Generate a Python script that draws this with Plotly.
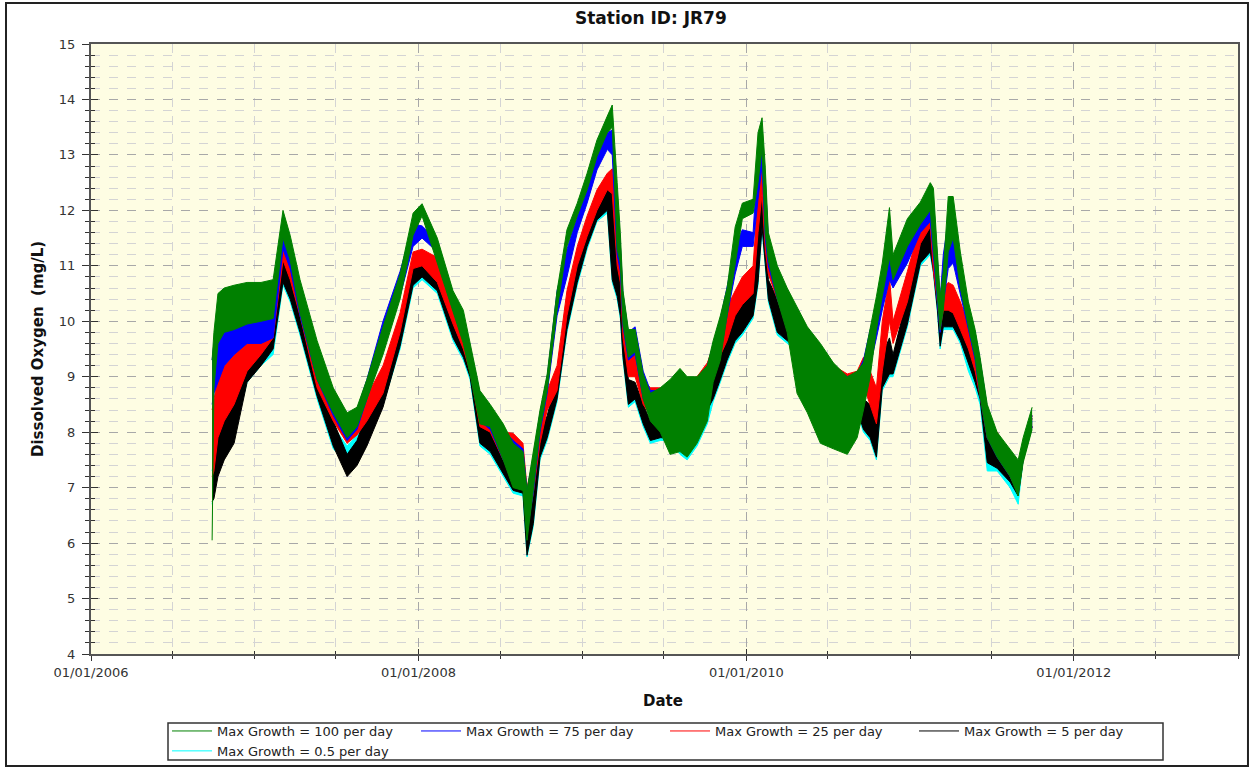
import plotly.graph_objects as go

# sample dates and the low/high envelope of each (very noisy) series
dates = [
    "2006-09-28", "2006-10-02", "2006-10-11", "2006-10-25", "2006-11-16", "2006-12-15",
    "2007-01-15", "2007-02-11", "2007-03-05", "2007-03-21", "2007-04-12", "2007-05-20",
    "2007-06-25", "2007-07-26", "2007-08-17", "2007-09-08", "2007-10-14", "2007-11-21",
    "2007-12-20", "2008-01-09", "2008-02-12", "2008-03-18", "2008-04-10", "2008-04-25",
    "2008-05-17", "2008-06-09", "2008-07-08", "2008-07-30", "2008-08-21", "2008-08-30",
    "2008-09-13", "2008-09-28", "2008-10-14", "2008-11-05", "2008-11-27", "2008-12-20",
    "2009-01-11", "2009-02-02", "2009-02-25", "2009-03-08", "2009-03-19", "2009-03-26",
    "2009-04-01", "2009-04-13", "2009-04-28", "2009-05-16", "2009-06-01", "2009-06-23",
    "2009-07-15", "2009-08-06", "2009-08-22", "2009-09-13", "2009-10-06", "2009-10-19",
    "2009-11-04", "2009-11-19", "2009-12-07", "2009-12-23", "2010-01-16", "2010-01-27",
    "2010-02-05", "2010-02-12", "2010-02-19", "2010-03-11", "2010-04-02", "2010-04-24",
    "2010-05-17", "2010-06-15", "2010-07-14", "2010-08-14", "2010-09-05", "2010-09-19",
    "2010-10-04", "2010-10-18", "2010-10-31", "2010-11-16", "2010-11-24", "2010-12-26",
    "2011-01-24", "2011-02-15", "2011-02-22", "2011-03-03", "2011-03-09", "2011-03-16",
    "2011-03-27", "2011-04-07", "2011-04-23", "2011-05-11", "2011-05-26", "2011-06-06",
    "2011-06-22", "2011-07-14", "2011-08-12", "2011-08-30", "2011-09-10", "2011-09-30",
]

g100_lo = [6.05, 8.8, 9.6, 9.8, 9.85, 9.95, 10.0, 10.05, 11.5, 11.1, 10.15, 8.95,
           8.35, 7.9, 8.1, 8.6, 9.4, 10.4, 11.55, 11.9, 11.05, 10.15, 9.6, 9.05,
           8.15, 8.1, 7.5, 7.0, 6.95, 6.05, 6.95, 8.05, 8.75, 10.2, 11.35, 11.9,
           12.37, 12.97, 13.4, 13.5, 11.3, 11.05, 9.95, 9.35, 9.45, 8.6, 8.2, 8.0,
           7.6, 7.65, 7.55, 7.8, 8.2, 8.9, 9.3, 10.1, 11.0, 11.85, 11.95, 12.5,
           13.1, 11.6, 11.1, 10.4, 9.8, 8.7, 8.35, 7.8, 7.7, 7.6, 7.9, 8.4,
           9.0, 9.85, 10.45, 11.15, 10.75, 11.35, 11.75, 12.0, 11.3, 10.45, 9.85, 10.2,
           11.25, 11.5, 10.6, 9.9, 9.35, 8.65, 7.9, 7.55, 7.2, 6.85, 7.45, 8.05]
g100_hi = [9.3, 9.8, 10.5, 10.6, 10.65, 10.7, 10.7, 10.75, 12.0, 11.55, 10.75, 9.65,
           8.8, 8.35, 8.45, 8.95, 9.9, 10.85, 11.95, 12.12, 11.5, 10.55, 10.2, 9.6,
           8.75, 8.5, 8.15, 7.8, 7.65, 6.95, 7.65, 8.4, 9.05, 10.55, 11.65, 12.13,
           12.67, 13.27, 13.7, 13.9, 12.5, 11.6, 10.55, 9.85, 9.85, 9.05, 8.7, 8.8,
           8.95, 9.15, 9.0, 9.0, 9.2, 9.65, 10.1, 10.6, 11.7, 12.13, 12.2, 13.4,
           13.67, 12.8, 11.6, 11.0, 10.6, 10.25, 9.9, 9.6, 9.25, 9.0, 9.1, 9.25,
           9.85, 10.45, 11.05, 12.05, 11.2, 11.85, 12.15, 12.5, 12.4, 11.2, 10.45, 10.9,
           12.25, 12.25, 11.25, 10.35, 9.85, 9.35, 8.5, 8.0, 7.7, 7.5, 7.9, 8.45]

b75_lo = [8.5, 8.7, 8.9, 9.2, 9.4, 9.6, 9.6, 9.7, 11.3, 10.95, 10.1, 8.95,
          8.3, 7.85, 8.05, 8.6, 9.5, 10.45, 11.35, 11.5, 11.25, 10.2, 9.7, 9.1,
          8.2, 8.05, 7.5, 7.2, 7.1, 6.2, 6.9, 8.0, 8.7, 10.1, 10.8, 11.6,
          12.13, 12.73, 13.1, 13.0, 11.2, 10.9, 9.9, 9.3, 9.4, 8.6, 8.3, 8.3,
          8.3, 8.4, 8.45, 8.5, 8.7, 9.0, 9.4, 10.1, 10.85, 11.35, 11.35, 12.2,
          12.8, 11.5, 11.0, 10.4, 9.9, 9.7, 9.4, 9.2, 8.95, 8.8, 8.75, 8.85,
          9.2, 9.7, 10.2, 10.75, 10.6, 11.05, 11.6, 11.8, 11.2, 10.4, 9.8, 10.3,
          10.95, 11.05, 10.5, 9.85, 9.3, 8.65, 7.9, 7.55, 7.2, 6.9, 7.5, 8.1]
b75_hi = [9.3, 9.6, 9.7, 9.9, 9.9, 10.0, 10.05, 10.1, 11.8, 11.4, 10.6, 9.5,
          8.75, 8.3, 8.4, 8.95, 10.0, 10.9, 11.75, 11.72, 11.45, 10.5, 10.1, 9.55,
          8.7, 8.45, 8.05, 7.85, 7.7, 6.95, 7.55, 8.35, 9.0, 10.55, 11.3, 11.9,
          12.37, 13.09, 13.4, 13.45, 12.2, 11.4, 10.5, 9.8, 9.9, 9.1, 8.75, 8.75,
          8.8, 8.9, 8.95, 8.95, 9.2, 9.6, 10.05, 10.62, 11.35, 11.65, 11.6, 13.0,
          13.33, 12.6, 11.5, 10.95, 10.5, 10.05, 9.75, 9.5, 9.15, 9.0, 9.05, 9.3,
          9.85, 10.15, 10.7, 11.55, 11.0, 11.45, 12.0, 12.35, 12.2, 11.1, 10.4, 11.2,
          11.8, 11.75, 11.05, 10.2, 9.8, 9.3, 8.45, 7.95, 7.65, 7.4, 7.8, 8.3]

r25_lo = [7.2, 7.3, 7.9, 8.2, 8.5, 9.1, 9.4, 9.7, 11.1, 10.75, 10.1, 8.8,
          8.2, 7.8, 7.95, 8.2, 8.7, 9.8, 10.95, 11.0, 10.7, 9.95, 9.5, 9.1,
          8.1, 8.0, 7.5, 7.3, 7.1, 6.3, 6.9, 7.8, 8.4, 8.75, 10.1, 11.0,
          11.53, 12.0, 12.37, 12.3, 11.0, 10.7, 9.7, 9.0, 9.0, 8.5, 8.3, 8.3,
          8.3, 8.4, 8.5, 8.6, 8.75, 9.1, 9.4, 9.65, 10.1, 10.3, 10.5, 11.6,
          12.3, 11.3, 10.85, 10.4, 9.9, 9.8, 9.45, 9.25, 9.0, 8.8, 8.8, 8.85,
          8.5, 8.15, 9.1, 10.0, 9.6, 10.35, 11.4, 11.7, 10.9, 10.35, 9.85, 10.2,
          10.2, 10.15, 9.85, 9.5, 9.1, 8.65, 7.9, 7.6, 7.2, 6.9, 7.5, 8.1]
r25_hi = [8.4, 8.6, 9.0, 9.2, 9.4, 9.7, 9.8, 10.15, 11.65, 11.3, 10.55, 9.4,
          8.7, 8.1, 8.35, 8.65, 9.2, 10.15, 11.25, 11.3, 11.15, 10.3, 9.95, 9.5,
          8.6, 8.4, 8.0, 7.98, 7.8, 7.0, 7.5, 8.15, 8.75, 9.2, 10.55, 11.35,
          11.9, 12.37, 12.67, 12.75, 12.0, 11.3, 10.3, 9.5, 9.4, 8.95, 8.8, 8.8,
          8.8, 8.9, 8.95, 9.0, 9.25, 9.55, 9.9, 10.25, 10.55, 10.8, 11.0, 12.3,
          12.85, 12.3, 11.35, 10.9, 10.4, 10.1, 9.8, 9.55, 9.2, 9.05, 9.1, 9.35,
          9.1, 8.8, 10.0, 10.8, 10.0, 10.9, 11.75, 12.15, 12.0, 10.9, 10.45, 10.6,
          10.7, 10.65, 10.35, 9.95, 9.5, 9.1, 8.2, 8.0, 7.6, 7.3, 7.8, 8.3]

k5_lo = [6.75, 6.8, 7.2, 7.5, 7.8, 8.9, 9.2, 9.5, 10.7, 10.4, 9.8, 8.65,
         7.75, 7.2, 7.4, 7.75, 8.45, 9.55, 10.65, 10.8, 10.55, 9.7, 9.35, 9.0,
         7.8, 7.65, 7.25, 6.95, 6.9, 5.78, 6.35, 7.55, 7.9, 8.6, 9.85, 10.7,
         11.35, 11.83, 12.0, 10.75, 10.45, 10.1, 9.35, 8.5, 8.6, 8.15, 7.85, 7.9,
         7.9, 8.0, 8.1, 8.2, 8.4, 8.6, 8.95, 9.3, 9.65, 9.8, 10.1, 10.7,
         11.7, 11.0, 10.4, 9.8, 9.65, 9.5, 9.4, 9.1, 8.9, 8.65, 8.4, 8.05,
         7.9, 7.55, 8.8, 9.05, 9.05, 9.95, 11.05, 11.25, 10.9, 10.2, 9.55, 9.9,
         9.9, 9.9, 9.65, 9.25, 8.9, 8.6, 7.45, 7.35, 7.1, 6.85, 7.5, 8.1]
k5_hi = [7.4, 7.4, 8.0, 8.4, 8.8, 9.4, 9.7, 9.9, 11.2, 10.85, 10.25, 9.05,
         8.2, 7.6, 7.85, 8.35, 8.95, 10.0, 11.05, 11.15, 10.9, 10.2, 9.7, 9.35,
         8.3, 8.05, 7.65, 7.45, 7.3, 6.65, 7.25, 7.95, 8.3, 9.0, 10.3, 11.05,
         11.65, 12.13, 12.37, 12.37, 11.45, 10.7, 9.95, 8.95, 8.9, 8.5, 8.2, 8.3,
         8.3, 8.4, 8.5, 8.6, 8.9, 9.2, 9.4, 9.9, 10.2, 10.4, 10.6, 12.2,
         12.25, 11.7, 10.75, 10.4, 10.15, 9.9, 9.65, 9.5, 9.15, 8.9, 8.85, 8.6,
         8.5, 8.4, 9.4, 9.7, 9.4, 10.45, 11.6, 11.9, 11.8, 10.85, 10.1, 10.45,
         10.45, 10.4, 10.15, 9.7, 9.35, 9.1, 7.9, 7.6, 7.45, 7.2, 7.75, 8.25]

c05_lo = [6.7, 6.9, 7.4, 7.7, 8.0, 8.9, 9.2, 9.4, 10.65, 10.35, 9.75, 8.6,
          7.7, 7.45, 7.6, 7.9, 8.5, 9.5, 10.6, 10.75, 10.5, 9.65, 9.3, 8.95,
          7.75, 7.6, 7.2, 6.9, 6.85, 5.75, 6.3, 7.5, 7.85, 8.55, 9.8, 10.65,
          11.3, 11.8, 11.95, 10.7, 10.4, 10.05, 9.3, 8.45, 8.55, 8.1, 7.8, 7.85,
          7.85, 7.6, 7.5, 7.75, 8.15, 8.55, 8.9, 9.25, 9.6, 9.75, 10.05, 10.65,
          11.65, 10.95, 10.35, 9.75, 9.6, 9.45, 9.3, 9.05, 8.85, 8.6, 8.35, 8.0,
          7.85, 7.5, 8.75, 9.0, 9.0, 9.9, 11.0, 11.2, 10.85, 10.15, 9.5, 9.85,
          9.85, 9.85, 9.6, 9.1, 8.8, 8.5, 7.3, 7.3, 7.0, 6.7, 7.5, 8.1]
c05_hi = [7.3, 7.5, 8.0, 8.3, 8.7, 9.3, 9.6, 9.8, 11.1, 10.75, 10.15, 8.95,
          8.1, 7.75, 7.95, 8.3, 8.9, 9.95, 11.0, 11.1, 10.85, 10.1, 9.65, 9.3,
          8.2, 8.0, 7.6, 7.4, 7.25, 6.6, 7.2, 7.9, 8.25, 8.95, 10.25, 11.0,
          11.6, 12.1, 12.3, 12.2, 11.4, 10.6, 9.9, 8.9, 8.85, 8.45, 8.15, 8.2,
          8.2, 8.3, 8.4, 8.5, 8.8, 9.1, 9.35, 9.85, 10.15, 10.35, 10.55, 12.1,
          12.2, 11.65, 10.7, 10.35, 10.1, 9.85, 9.6, 9.45, 9.1, 8.85, 8.8, 8.55,
          8.45, 8.3, 9.35, 9.65, 9.35, 10.4, 11.55, 11.85, 11.75, 10.8, 10.05, 10.4,
          10.4, 10.35, 10.1, 9.5, 9.2, 9.0, 7.8, 7.5, 7.3, 7.0, 7.7, 8.2]

series = [
    # name, color, low, high, legend position
    ("Max Growth = 0.5 per day", "#00ffff", c05_lo, c05_hi, 5),
    ("Max Growth = 5 per day", "#000000", k5_lo, k5_hi, 4),
    ("Max Growth = 25 per day", "#ff0000", r25_lo, r25_hi, 3),
    ("Max Growth = 75 per day", "#0000ff", b75_lo, b75_hi, 2),
    ("Max Growth = 100 per day", "#008000", g100_lo, g100_hi, 1),
]

fig = go.Figure()
for name, color, lo, hi, rank in series:
    fig.add_trace(go.Scatter(
        x=dates, y=lo, name=name, mode="lines",
        line=dict(color=color, width=1), legendrank=rank,
    ))
    fig.add_trace(go.Scatter(
        x=dates, y=hi, name=name, mode="lines", showlegend=False,
        line=dict(color=color, width=1), fill="tonexty", fillcolor=color,
    ))

# invisible overlay axes give the tick marks that cross the axis lines
fig.add_trace(go.Scatter(x=[None], y=[None], xaxis="x2", yaxis="y2",
                         showlegend=False, hoverinfo="skip"))

grid_major = "#a8a8a8"
grid_minor = "#d4d4d4"
tick_font = dict(family="DejaVu Sans", size=13, color="#333333")

fig.update_layout(
    width=1253, height=769,
    margin=dict(l=91, r=15, t=44, b=115),
    paper_bgcolor="white",
    plot_bgcolor="#fefde3",
    showlegend=True,
    xaxis=dict(
        type="date", range=["2006-01-01", "2013-01-01"],
        tick0="2006-01-01", dtick="M24", tickformat="%m/%d/%Y",
        ticks="outside", ticklen=5, tickcolor="#333", tickfont=tick_font,
        showline=True, linecolor="#555", linewidth=2, mirror=True,
        showgrid=True, gridcolor=grid_major, griddash="dash", gridwidth=1,
        zeroline=False,
        minor=dict(dtick="M6", tick0="2006-01-01", ticks="outside", ticklen=3,
                   tickcolor="#333", showgrid=True, gridcolor=grid_minor,
                   griddash="dash"),
    ),
    yaxis=dict(
        range=[4, 15], dtick=1, tick0=0,
        ticks="outside", ticklen=7, tickcolor="#333", tickfont=tick_font,
        ticklabelstandoff=4,
        showline=True, linecolor="#555", linewidth=2, mirror=True,
        showgrid=True, gridcolor=grid_major, griddash="dash", gridwidth=1,
        zeroline=False,
        minor=dict(dtick=0.2, tick0=0, ticks="outside", ticklen=4,
                   tickcolor="#333", showgrid=True, gridcolor=grid_minor,
                   griddash="dash"),
    ),
    xaxis2=dict(
        type="date", range=["2006-01-01", "2013-01-01"], overlaying="x",
        anchor="y", side="bottom", tick0="2006-01-01", dtick="M24",
        ticks="inside", ticklen=5, tickcolor="#333", showticklabels=False,
        showgrid=False, zeroline=False,
        minor=dict(dtick="M6", tick0="2006-01-01", ticks="inside", ticklen=3,
                   tickcolor="#333", showgrid=False),
    ),
    yaxis2=dict(
        range=[4, 15], overlaying="y", anchor="x", side="left",
        dtick=1, tick0=0, ticks="inside", ticklen=7, tickcolor="#333",
        showticklabels=False, showgrid=False, zeroline=False,
        minor=dict(dtick=0.2, tick0=0, ticks="inside", ticklen=4,
                   tickcolor="#333", showgrid=False),
    ),
    legend=dict(
        orientation="h", traceorder="normal",
        xref="container", yref="container",
        x=0.1333, xanchor="left", y=0.0689, yanchor="top",
        bgcolor="rgba(0,0,0,0)", borderwidth=0,
        font=dict(family="DejaVu Sans", size=13, color="#222"),
        itemwidth=40, entrywidth=194, tracegroupgap=0,
    ),
    annotations=[
        dict(text="<b>Station ID: JR79</b>", xref="paper", yref="paper",
             x=0.488, y=1.0426, xanchor="center", yanchor="middle", showarrow=False,
             font=dict(family="DejaVu Sans", size=17, color="#111")),
        dict(text="<b>Dissolved Oxygen \u00a0(mg/L)</b>", xref="paper", yref="paper",
             x=-0.0462, y=0.5, xanchor="center", yanchor="middle", textangle=-90,
             showarrow=False, font=dict(family="DejaVu Sans", size=15, color="#111")),
        dict(text="<b>Date</b>", xref="paper", yref="paper",
             x=0.4987, y=-0.077, xanchor="center", yanchor="middle", showarrow=False,
             font=dict(family="DejaVu Sans", size=15, color="#111")),
    ],
    shapes=[
        # outer frame of the whole chart
        dict(type="rect", xref="paper", yref="paper",
             x0=-0.0741, x1=1.0087, y0=-0.1836, y1=1.0672,
             line=dict(color="#222", width=2), fillcolor="rgba(0,0,0,0)", layer="below"),
        # legend box
        dict(type="rect", xref="paper", yref="paper",
             x0=(168 - 91) / 1147, x1=(1163 - 91) / 1147,
             y0=(654 - 760) / 610, y1=(654 - 723) / 610,
             line=dict(color="#333", width=1.5), fillcolor="white", layer="below"),
    ],
)

# drop the default body margin so the figure sits at the window's corner
fig.write_html("out.html", config={"displayModeBar": False},
               post_script="document.body.style.margin='0';")
